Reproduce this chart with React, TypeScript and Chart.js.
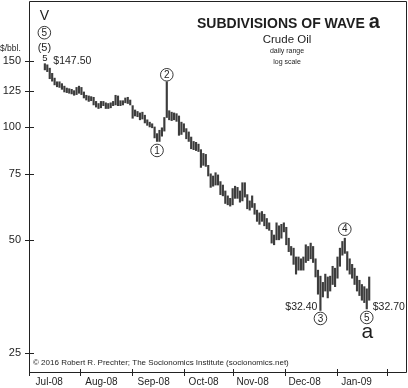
import { useEffect, useRef } from 'react';
import { Chart, registerables } from 'chart.js';

Chart.register(...registerables);

// Trading days, Jul 11 2008 .. Jan 21 2009 (index = position on the x axis)
const dates = [
  'Jul 11', 'Jul 14', 'Jul 15', 'Jul 16', 'Jul 17', 'Jul 18', 'Jul 21', 'Jul 22', 'Jul 23', 'Jul 24',
  'Jul 25', 'Jul 28', 'Jul 29', 'Jul 30', 'Jul 31', 'Aug 1', 'Aug 4', 'Aug 5', 'Aug 6', 'Aug 7',
  'Aug 8', 'Aug 11', 'Aug 12', 'Aug 13', 'Aug 14', 'Aug 15', 'Aug 18', 'Aug 19', 'Aug 20', 'Aug 21',
  'Aug 22', 'Aug 25', 'Aug 26', 'Aug 27', 'Aug 28', 'Aug 29', 'Sep 2', 'Sep 3', 'Sep 4', 'Sep 5',
  'Sep 8', 'Sep 9', 'Sep 10', 'Sep 11', 'Sep 12', 'Sep 15', 'Sep 16', 'Sep 17', 'Sep 18', 'Sep 19',
  'Sep 22', 'Sep 23', 'Sep 24', 'Sep 25', 'Sep 26', 'Sep 29', 'Sep 30', 'Oct 1', 'Oct 2', 'Oct 3',
  'Oct 6', 'Oct 7', 'Oct 8', 'Oct 9', 'Oct 10', 'Oct 13', 'Oct 14', 'Oct 15', 'Oct 16', 'Oct 17',
  'Oct 20', 'Oct 21', 'Oct 22', 'Oct 23', 'Oct 24', 'Oct 27', 'Oct 28', 'Oct 29', 'Oct 30', 'Oct 31',
  'Nov 3', 'Nov 4', 'Nov 5', 'Nov 6', 'Nov 7', 'Nov 10', 'Nov 11', 'Nov 12', 'Nov 13', 'Nov 14',
  'Nov 17', 'Nov 18', 'Nov 19', 'Nov 20', 'Nov 21', 'Nov 24', 'Nov 25', 'Nov 26', 'Nov 28', 'Dec 1',
  'Dec 2', 'Dec 3', 'Dec 4', 'Dec 5', 'Dec 8', 'Dec 9', 'Dec 10', 'Dec 11', 'Dec 12', 'Dec 15',
  'Dec 16', 'Dec 17', 'Dec 18', 'Dec 19', 'Dec 22', 'Dec 23', 'Dec 24', 'Dec 26', 'Dec 29', 'Dec 30',
  'Dec 31', 'Jan 2', 'Jan 5', 'Jan 6', 'Jan 7', 'Jan 8', 'Jan 9', 'Jan 12', 'Jan 13', 'Jan 14',
  'Jan 15', 'Jan 16', 'Jan 20', 'Jan 21',
];

const highs = [
  147.5, 146.5, 143.5, 139.0, 135.0, 132.0, 132.0, 130.5, 128.5, 127.0,
  126.5, 126.0, 125.0, 127.5, 128.5, 127.5, 124.0, 121.5, 121.0, 120.5,
  120.0, 117.0, 115.5, 117.0, 117.0, 116.0, 115.5, 116.0, 117.0, 121.5,
  121.0, 117.5, 117.5, 119.5, 120.0, 118.0, 114.0, 111.0, 110.0, 109.0,
  109.5, 107.5, 104.5, 103.0, 102.0, 100.0, 96.0, 98.0, 99.5, 106.0,
  132.0, 110.5, 109.5, 109.0, 108.5, 107.0, 103.0, 102.0, 99.0, 97.0,
  94.0, 91.5, 91.0, 90.0, 87.0, 85.0, 84.5, 79.0, 75.0, 74.0,
  75.5, 74.5, 71.5, 70.0, 67.5, 65.5, 64.5, 68.5, 69.5, 69.0,
  67.5, 71.0, 71.0, 66.0, 63.5, 65.5, 62.5, 60.0, 59.0, 59.5,
  58.5, 57.0, 55.5, 53.0, 51.5, 55.5, 54.5, 55.0, 55.5, 54.0,
  50.5, 48.0, 47.5, 45.0, 45.0, 44.5, 45.0, 48.5, 48.0, 49.0,
  48.0, 44.5, 41.5, 40.0, 38.5, 40.5, 39.8, 40.0, 42.5, 42.0,
  45.0, 47.5, 49.5, 50.5, 46.5, 44.5, 43.0, 42.0, 40.0, 39.0,
  38.0, 37.5, 37.0, 39.8,
];

const lows = [
  142.0, 140.5, 134.5, 132.5, 129.5, 128.0, 127.5, 126.0, 124.0, 123.5,
  123.0, 122.5, 121.5, 122.0, 123.0, 122.0, 119.5, 118.0, 117.0, 117.5,
  114.5, 113.0, 112.0, 112.5, 114.0, 112.0, 112.0, 112.5, 114.0, 114.5,
  114.0, 114.0, 114.5, 116.0, 115.5, 114.5, 105.5, 107.0, 106.5, 104.5,
  105.0, 102.5, 101.0, 100.0, 99.5, 93.5, 91.5, 91.5, 94.5, 97.5,
  106.0, 104.5, 104.0, 104.5, 103.5, 95.0, 95.5, 97.0, 93.0, 91.5,
  87.5, 87.0, 86.5, 86.0, 78.0, 79.0, 78.5, 74.0, 69.0, 69.5,
  70.0, 70.0, 66.0, 65.5, 62.5, 62.0, 61.5, 62.0, 64.5, 64.5,
  63.0, 63.5, 65.0, 60.5, 60.0, 61.0, 58.5, 56.0, 55.0, 56.0,
  54.5, 53.5, 53.0, 49.0, 48.5, 50.0, 50.0, 50.5, 52.5, 48.5,
  46.5, 45.5, 43.0, 40.5, 41.5, 41.5, 41.5, 43.5, 44.0, 44.5,
  43.5, 39.8, 35.8, 32.4, 35.2, 36.5, 35.0, 36.5, 38.0, 37.5,
  39.5, 42.5, 45.5, 46.0, 41.5, 40.5, 39.5, 38.0, 36.5, 35.5,
  34.5, 34.0, 32.7, 34.5,
];

const monthLabels = ['Jul-08', 'Aug-08', 'Sep-08', 'Oct-08', 'Nov-08', 'Dec-08', 'Jan-09'];
// month boundaries on the trading-day axis
const monthBounds = [-6.4, 14.5, 35.6, 57.2, 77.3, 98.6, 119.6, 140.5];
// where each month's label sits on the trading-day axis
const monthLabelPos = [1.8, 23.2, 44.6, 65.1, 85.2, 106.5, 127.8];
const yTicks = [25, 50, 75, 100, 125, 150];

// wave labels: index of bar, text, anchored to 'low' or 'high', pixel offset
const waveCircles = [
  { i: 46, text: '1', side: 'low', off: 9 },
  { i: 50, text: '2', side: 'high', off: -7 },
  { i: 113, text: '3', side: 'low', off: 8 },
  { i: 123, text: '4', side: 'high', off: -9 },
  { i: 132, text: '5', side: 'low', off: 8.5 },
];
const priceLabels = [
  { i: 0, text: '$147.50', side: 'high', dx: 8.5, off: -2.5, align: 'left' },
  { i: 113, text: '$32.40', side: 'low', dx: -3, off: -3.5, align: 'right' },
  { i: 132, text: '$32.70', side: 'low', dx: 6, off: -2, align: 'left' },
];

const FONT = '"Liberation Sans", Arial, Helvetica, sans-serif';
const INK = '#1e1e1e';

const decor = {
  id: 'decor',
  afterDraw(chart: any) {
    const { ctx, chartArea: a, scales } = chart;
    const x = scales.x;
    const y = scales.y;
    ctx.save();
    // frame
    ctx.strokeStyle = '#222';
    ctx.lineWidth = 1;
    ctx.beginPath();
    ctx.moveTo(Math.round(a.left) + 0.5, Math.round(a.top) + 0.5);
    ctx.lineTo(Math.round(a.right) - 0.5, Math.round(a.top) + 0.5);
    ctx.lineTo(Math.round(a.right) - 0.5, Math.round(a.bottom) + 0.5);
    ctx.lineTo(Math.round(a.left) + 0.5, Math.round(a.bottom) + 0.5);
    ctx.closePath();
    ctx.stroke();
    // y ticks crossing the axis
    ctx.beginPath();
    for (const v of yTicks) {
      const py = Math.round(y.getPixelForValue(v)) + 0.5;
      ctx.moveTo(a.left - 4, py);
      ctx.lineTo(a.left + 5, py);
    }
    // x ticks at month bounds
    for (const b of monthBounds) {
      const px = Math.round(x.getPixelForValue(b)) + 0.5;
      ctx.moveTo(px, a.bottom - 3);
      ctx.lineTo(px, a.bottom + 4);
    }
    ctx.stroke();

    ctx.fillStyle = INK;
    ctx.textBaseline = 'middle';
    // unit label
    ctx.textAlign = 'left';
    ctx.font = `8.5px ${FONT}`;
    ctx.fillText('$/bbl.', 0, 49);

    // title
    ctx.font = `bold 14px ${FONT}`;
    ctx.textBaseline = 'alphabetic';
    const t1 = 'SUBDIVISIONS OF WAVE ';
    ctx.fillText(t1, 197, 27.5);
    const w1 = ctx.measureText(t1).width;
    ctx.font = `bold 20px ${FONT}`;
    ctx.fillText('a', 197 + w1, 27.5);
    ctx.textAlign = 'center';
    ctx.textBaseline = 'middle';
    ctx.font = `11.5px ${FONT}`;
    ctx.fillText('Crude Oil', 287, 40);
    ctx.font = `7px ${FONT}`;
    ctx.fillText('daily range', 287, 51.5);
    ctx.fillText('log scale', 287, 62);

    // copyright
    ctx.textAlign = 'left';
    ctx.font = `8px ${FONT}`;
    ctx.fillText('\u00a9 2016 Robert R. Prechter; The Socionomics Institute (socionomics.net)', 33, 363);

    const px = (i: number) => x.getPixelForValue(i);
    const py = (i: number, side: string) => y.getPixelForValue(side === 'high' ? highs[i] : lows[i]);

    // top-left wave marks at the peak
    const x0 = px(0) - 0.5;
    const top = py(0, 'high');
    ctx.textAlign = 'center';
    ctx.font = `14px ${FONT}`;
    ctx.fillText('V', x0, top - 48);
    ctx.lineWidth = 0.9;
    ctx.beginPath();
    ctx.arc(x0, top - 31, 6.3, 0, Math.PI * 2);
    ctx.stroke();
    ctx.font = `10px ${FONT}`;
    ctx.fillText('5', x0, top - 30.5);
    ctx.font = `11px ${FONT}`;
    ctx.fillText('(5)', x0, top - 16);
    ctx.font = `9.5px ${FONT}`;
    ctx.fillText('5', x0 + 0.5, top - 5.5);

    // circled wave numbers
    for (const w of waveCircles) {
      const cx = px(w.i);
      const cy = py(w.i, w.side) + w.off;
      ctx.beginPath();
      ctx.arc(cx, cy, 6.3, 0, Math.PI * 2);
      ctx.stroke();
      ctx.font = `10px ${FONT}`;
      ctx.fillText(w.text, cx, cy + 0.5);
    }
    // final "a"
    const last = waveCircles[waveCircles.length - 1];
    ctx.font = `21px ${FONT}`;
    ctx.fillText('a', px(last.i) + 0.5, py(last.i, 'low') + 23.5);

    // price labels
    ctx.font = `10.5px ${FONT}`;
    for (const p of priceLabels) {
      ctx.textAlign = p.align as CanvasTextAlign;
      ctx.fillText(p.text, px(p.i) + p.dx, py(p.i, p.side) + p.off);
    }
    ctx.restore();
  },
};

export default function App() {
  const ref = useRef<HTMLCanvasElement>(null);
  useEffect(() => {
    document.body.style.margin = '0';
    const chart = new Chart(ref.current!, {
      type: 'bar',
      data: {
        datasets: [
          {
            data: dates.map((_, i) => ({ x: i, y: [lows[i], highs[i]] })) as any,
            backgroundColor: '#3c3c3c',
            borderWidth: 0,
            barThickness: 1.5,
            grouped: false,
          } as any,
        ],
      },
      options: {
        animation: false,
        responsive: true,
        maintainAspectRatio: false,
        layout: { padding: { top: 1, right: 1, left: 0, bottom: 0 } },
        plugins: { legend: { display: false }, tooltip: { enabled: false } },
        scales: {
          x: {
            type: 'linear',
            offset: false,
            min: -6.5,
            max: 148.5,
            grid: { display: false, drawTicks: false, offset: false },
            border: { display: false },
            afterBuildTicks: (s: any) => {
              s.ticks = monthLabelPos.map((v) => ({ value: v }));
            },
            ticks: {
              autoSkip: false,
              maxRotation: 0,
              padding: 4,
              color: INK,
              font: { family: FONT, size: 10 },
              callback: (_v: any, i: number) => monthLabels[i],
            },
            afterFit: (s: any) => {
              s.height = 16;
              s.paddingLeft = 0;
              s.paddingRight = 0;
            },
          },
          y: {
            type: 'logarithmic',
            min: 22.2,
            max: 216.8,
            grid: { display: false, drawTicks: false },
            border: { display: false },
            afterBuildTicks: (s: any) => {
              s.ticks = yTicks.map((v) => ({ value: v }));
            },
            ticks: {
              padding: 8,
              color: INK,
              font: { family: FONT, size: 11 },
              callback: (v: any) => String(v),
            },
            afterFit: (s: any) => {
              s.width = 29;
              s.paddingTop = 0;
              s.paddingBottom = 0;
            },
          },
        },
      } as any,
      plugins: [decor],
    });
    return () => chart.destroy();
  }, []);
  return (
    <div style={{ width: 408, height: 388, position: 'relative', background: '#fff' }}>
      <canvas ref={ref} />
    </div>
  );
}
